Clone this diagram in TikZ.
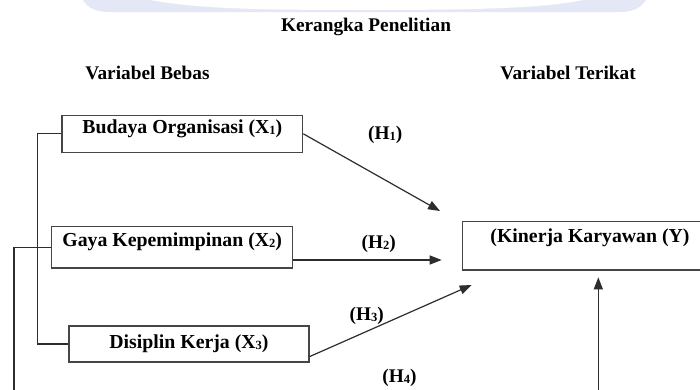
\documentclass[tikz,border=0pt]{standalone}
\usepackage{fontspec}
\setmainfont{Liberation Serif}
\usetikzlibrary{arrows.meta}
\definecolor{wm}{RGB}{228,231,246}
\definecolor{linecol}{RGB}{45,45,45}
\definecolor{boxcol}{RGB}{70,70,70}
\newcommand\lowsub[1]{\raisebox{-0.15ex}{\fontsize{12.5}{12.5}\selectfont #1}}
\tikzset{
  box/.style={draw=boxcol, line width=1.2pt, rectangle, inner sep=0pt},
  lbl/.style={font=\fontsize{19.3}{22}\selectfont\bfseries, inner sep=0pt, anchor=base},
  blbl/.style={lbl, font=\fontsize{19.8}{22}\selectfont\bfseries},
  conn/.style={draw=linecol, line width=1.2pt},
  arr/.style={conn, -{Triangle[length=12pt,width=9pt]}}
}
\begin{document}
\begin{tikzpicture}[x=1pt,y=-1pt]
\useasboundingbox (0,0) rectangle (700,389);
\clip (0,0) rectangle (700,389);
\fill[white] (0,0) rectangle (700,389);
% watermark fragment
\fill[wm] (83,0) .. controls (88,8) and (95,12) .. (112,12) -- (620,12) .. controls (635,12) and (642,6) .. (646,0) -- cycle;
\fill[white] (150,0) .. controls (200,9) and (260,10) .. (366,10) .. controls (480,10) and (545,8) .. (583,0) -- cycle;

% headings
\node[lbl] (title) at (366,31) {Kerangka Penelitian};
\node[lbl] (bebas) at (147.5,79) {Variabel Bebas};
\node[lbl] (terikat) at (568,79) {Variabel Terikat};

% boxes
\node[box, minimum width=240.7pt, minimum height=37pt] (x1) at (182.35,133.8) {};
\node[box, minimum width=241pt, minimum height=41.3pt] (x2) at (172.2,247.35) {};
\node[box, minimum width=240pt, minimum height=36pt] (x3) at (189,344) {};
\node[box, minimum width=255pt, minimum height=48.3pt] (y) at (590,245.85) {};

\node[blbl] (x1t) at (182.4,133.6) {Budaya Organisasi (X\lowsub{1})};
\node[blbl] (x2t) at (172.2,246) {Gaya Kepemimpinan (X\lowsub{2})};
\node[blbl] (x3t) at (189,348) {Disiplin Kerja (X\lowsub{3})};
\node[blbl] (yt) at (590,242) {(Kinerja Karyawan (Y)};

% hypothesis labels
\node[lbl] (h1) at (385.3,139.5) {(H\lowsub{1})};
\node[lbl] (h2) at (378.8,248.5) {(H\lowsub{2})};
\node[lbl] (h3) at (366.8,320.5) {(H\lowsub{3})};
\node[lbl] (h4) at (399.5,382.5) {(H\lowsub{4})};

% connector coordinates
\coordinate (h1e) at (440,211);
\coordinate (h2e) at (441.7,260);
\coordinate (h3e) at (471.7,285);
\coordinate (h4s) at (598.3,395);
\coordinate (h4e) at (598.3,277.3);
\coordinate (lv) at (37.5,133.8);
\coordinate (lb) at (14,395);

% arrows
\draw[arr] (x1.east) -- (h1e);
\draw[arr] (x2.east |- h2e) -- (h2e);
\draw[arr] ([yshift=6pt]x3.south east) -- (h3e);
\draw[arr] (h4s) -- (h4e);

% left bracket
\draw[conn] (x1.west) -- (lv) |- (x3.west);
\draw[conn] (x2.west) -| (lb);
\end{tikzpicture}
\end{document}
